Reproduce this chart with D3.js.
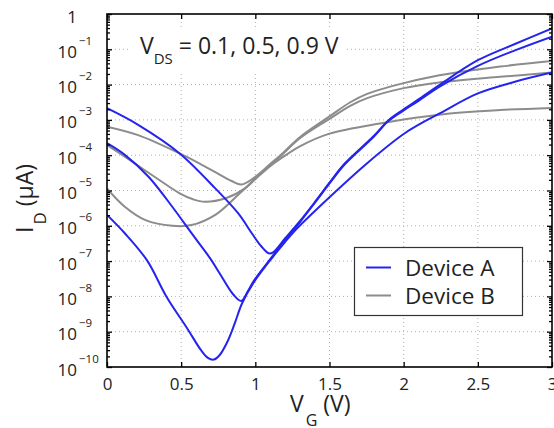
<!DOCTYPE html>
<html><head><meta charset="utf-8">
<script src="https://cdn.jsdelivr.net/npm/d3@7"></script>
<style>
body{margin:0;background:#fff}
svg{display:block}
text{font-family:"Open Sans",sans-serif;fill:#222}
</style>
</head><body>
<svg id="chart" width="554" height="428"></svg>
<script>
// ---- data (I_D in µA given as log10 exponents, V_G in volts) ----
const vgTicks = [0, 0.5, 1, 1.5, 2, 2.5, 3];
const vgTickLabels = ["0", "0.5", "1", "1.5", "2", "2.5", "3"];
const idTickExponents = [0, -1, -2, -3, -4, -5, -6, -7, -8, -9, -10];

const legendLabels = ["Device A", "Device B"];
const annotationMain = "V";
const annotationSub = "DS";
const annotationRest = " = 0.1, 0.5, 0.9 V";

// Device A, V_DS = 0.1 V
const vgA01 = [0, 0.12, 0.27, 0.40, 0.54, 0.63, 0.68, 0.72, 0.76, 0.81, 0.86, 0.91, 0.99, 1.12, 1.2, 1.28, 1.5, 1.75, 2.0, 2.16, 2.25, 2.5, 2.75, 3.0];
const logIdA01 = [-5.69, -6.21, -6.98, -8.0, -8.9, -9.5, -9.74, -9.79, -9.66, -9.3, -8.78, -8.2, -7.6, -6.87, -6.46, -6.08, -5.19, -4.24, -3.4, -3.0, -2.8, -2.25, -1.92, -1.66];
// Device A, V_DS = 0.5 V
const vgA05 = [0, 0.12, 0.28, 0.44, 0.57, 0.63, 0.70, 0.76, 0.85, 0.905, 0.95, 0.99, 1.12, 1.2, 1.3, 1.41, 1.5, 1.6, 1.8, 1.9, 2.0, 2.1, 2.245, 2.5, 2.75, 3.0];
const logIdA05 = [-3.66, -3.99, -4.61, -5.46, -6.21, -6.55, -6.95, -7.35, -7.94, -8.13, -7.85, -7.56, -6.84, -6.4, -5.9, -5.3, -4.8, -4.27, -3.47, -3.02, -2.73, -2.46, -2.05, -1.47, -1.03, -0.64];
// Device A, V_DS = 0.9 V
const vgA09 = [0, 0.21, 0.49, 0.73, 0.885, 0.976, 1.04, 1.09, 1.12, 1.2, 1.3, 1.41, 1.5, 1.6, 1.8, 1.9, 2.0, 2.1, 2.245, 2.5, 2.75, 3.0];
const logIdA09 = [-2.67, -3.14, -3.95, -4.94, -5.65, -6.21, -6.58, -6.78, -6.75, -6.36, -5.87, -5.28, -4.78, -4.25, -3.45, -3.0, -2.7, -2.42, -2.0, -1.31, -0.85, -0.41];
// Device B, V_DS = 0.1 V
const vgB01 = [0, 0.12, 0.26, 0.44, 0.57, 0.73, 0.885, 1.0, 1.1, 1.17, 1.3, 1.5, 1.84, 2.31, 2.65, 3.0];
const logIdB01 = [-4.94, -5.46, -5.84, -6.0, -5.98, -5.69, -5.12, -4.68, -4.31, -4.1, -3.75, -3.39, -3.1, -2.82, -2.72, -2.66];
// Device B, V_DS = 0.5 V
const vgB05 = [0, 0.12, 0.32, 0.49, 0.58, 0.66, 0.80, 0.93, 1.0, 1.1, 1.17, 1.3, 1.5, 1.64, 1.75, 2.0, 2.2, 2.65, 3.0];
const logIdB05 = [-3.71, -4.04, -4.61, -5.08, -5.25, -5.32, -5.22, -4.94, -4.65, -4.28, -4.03, -3.52, -2.97, -2.6, -2.39, -2.1, -1.96, -1.78, -1.66];
// Device B, V_DS = 0.9 V
const vgB09 = [0, 0.21, 0.49, 0.63, 0.73, 0.84, 0.906, 1.0, 1.1, 1.17, 1.3, 1.5, 1.64, 1.75, 1.98, 2.2, 2.65, 3.0];
const logIdB09 = [-3.19, -3.43, -3.95, -4.25, -4.48, -4.73, -4.83, -4.61, -4.25, -4.0, -3.49, -2.9, -2.5, -2.27, -1.98, -1.77, -1.49, -1.33];

const seriesList = [
  {vg: vgB01, logId: logIdB01, device: 1},
  {vg: vgB05, logId: logIdB05, device: 1},
  {vg: vgB09, logId: logIdB09, device: 1},
  {vg: vgA01, logId: logIdA01, device: 0},
  {vg: vgA05, logId: logIdA05, device: 0},
  {vg: vgA09, logId: logIdA09, device: 0}
];
const deviceColors = ["#2424ee", "#8c8c8c"];

// ---- layout ----
const L = 107, R = 552, T = 14, B = 367;
const svg = d3.select("#chart");
const x = d3.scaleLinear().domain([0, 3]).range([L, R]);
const y = d3.scaleLog().domain([1e-10, 1]).range([B, T]);

const majorY = idTickExponents.map(e => Math.pow(10, e));
const minorY = [];
idTickExponents.slice(1).forEach(e => { for (let k = 2; k <= 9; k++) minorY.push(k * Math.pow(10, e)); });

// grid
const grid = svg.append("g").attr("stroke", "#b0b0b0").attr("stroke-width", 1).attr("stroke-dasharray", "1,3");
grid.selectAll("line.gx").data(vgTicks.slice(1, -1)).join("line")
  .attr("x1", d => x(d)).attr("x2", d => x(d)).attr("y1", T).attr("y2", B);
grid.selectAll("line.gy").data(majorY.slice(1, -1)).join("line")
  .attr("x1", L).attr("x2", R).attr("y1", d => y(d)).attr("y2", d => y(d));

// annotation background + text
svg.append("rect").attr("x", 131).attr("y", 28).attr("width", 216).attr("height", 44).attr("fill", "#fff");
const ann = svg.append("text").attr("x", 140).attr("y", 53.5).attr("font-size", 23);
ann.append("tspan").text(annotationMain);
ann.append("tspan").attr("font-size", 15).attr("dy", 10).text(annotationSub);
ann.append("tspan").attr("dy", -10).text(annotationRest);

// curves
svg.append("clipPath").attr("id", "clip").append("rect")
  .attr("x", L).attr("y", T).attr("width", R - L).attr("height", B - T);
const line = d3.line().x(d => x(d[0])).y(d => y(Math.pow(10, d[1]))).curve(d3.curveCatmullRom.alpha(0.5));
const curves = svg.append("g").attr("clip-path", "url(#clip)");
seriesList.forEach(s => {
  curves.append("path")
    .attr("d", line(s.vg.map((v, i) => [v, s.logId[i]])))
    .attr("fill", "none")
    .attr("stroke", deviceColors[s.device])
    .attr("stroke-width", 2)
    .attr("stroke-linejoin", "round");
});

// axes (ticks inside, box)
function clean(g) { g.select(".domain").remove(); g.selectAll("line").attr("stroke", "#000").attr("stroke-width", 1.3); }
svg.append("g").attr("transform", `translate(${L},0)`)
  .call(d3.axisLeft(y).tickValues(majorY).tickSize(-5).tickFormat("")).call(clean);
svg.append("g").attr("transform", `translate(${L},0)`)
  .call(d3.axisLeft(y).tickValues(minorY).tickSize(-3).tickFormat("")).call(clean);
svg.append("g").attr("transform", `translate(${R},0)`)
  .call(d3.axisRight(y).tickValues(majorY).tickSize(-5).tickFormat("")).call(clean);
svg.append("g").attr("transform", `translate(${R},0)`)
  .call(d3.axisRight(y).tickValues(minorY).tickSize(-3).tickFormat("")).call(clean);
svg.append("g").attr("transform", `translate(0,${T})`)
  .call(d3.axisTop(x).tickValues(vgTicks).tickSize(-5).tickFormat("")).call(clean);
const xAxis = svg.append("g").attr("transform", `translate(0,${B})`)
  .call(d3.axisBottom(x).tickValues(vgTicks).tickSize(-5).tickPadding(10.5)
    .tickFormat((d, i) => vgTickLabels[i]));
xAxis.call(clean);
xAxis.selectAll("text").attr("font-size", 17).attr("font-family", "Open Sans, sans-serif").attr("fill", "#222");

svg.append("rect").attr("x", L).attr("y", T).attr("width", R - L).attr("height", B - T)
  .attr("fill", "none").attr("stroke", "#000").attr("stroke-width", 1.6);

// y tick labels
const yl = svg.append("g");
idTickExponents.forEach(e => {
  const py = y(Math.pow(10, e));
  if (e === 0) {
    yl.append("text").attr("x", 77).attr("y", py + 9).attr("text-anchor", "end").attr("font-size", 17).text("1");
  } else {
    yl.append("text").attr("x", 77).attr("y", py + 8.5).attr("text-anchor", "end").attr("font-size", 17).text("10");
    yl.append("text").attr("x", 79).attr("y", py - 4.5).attr("font-size", 11.5).text("\u2212" + (-e));
  }
});

// axis titles
const xt = svg.append("text").attr("x", 290).attr("y", 412).attr("font-size", 23);
xt.append("tspan").text("V");
xt.append("tspan").attr("font-size", 16).attr("dx", 2).attr("dy", 14).text("G");
xt.append("tspan").attr("dy", -14).text(" (V)");

const yt = svg.append("text").attr("transform", "translate(33,233) rotate(-90)").attr("font-size", 23);
yt.append("tspan").text("I");
yt.append("tspan").attr("font-size", 17).attr("dx", 2).attr("dy", 13).text("D");
yt.append("tspan").attr("dy", -13).text(" (\u00b5A)");

// legend
const lg = svg.append("g");
lg.append("rect").attr("x", 354.5).attr("y", 247.5).attr("width", 168).attr("height", 68)
  .attr("fill", "#fff").attr("stroke", "#333").attr("stroke-width", 1.2);
[267.5, 295.5].forEach((ly, i) => {
  lg.append("line").attr("x1", 366).attr("x2", 391).attr("y1", ly).attr("y2", ly)
    .attr("stroke", deviceColors[i]).attr("stroke-width", 2);
  lg.append("text").attr("x", 405).attr("y", ly + 8.5).attr("font-size", 22.5).text(legendLabels[i]);
});
</script>
</body></html>
